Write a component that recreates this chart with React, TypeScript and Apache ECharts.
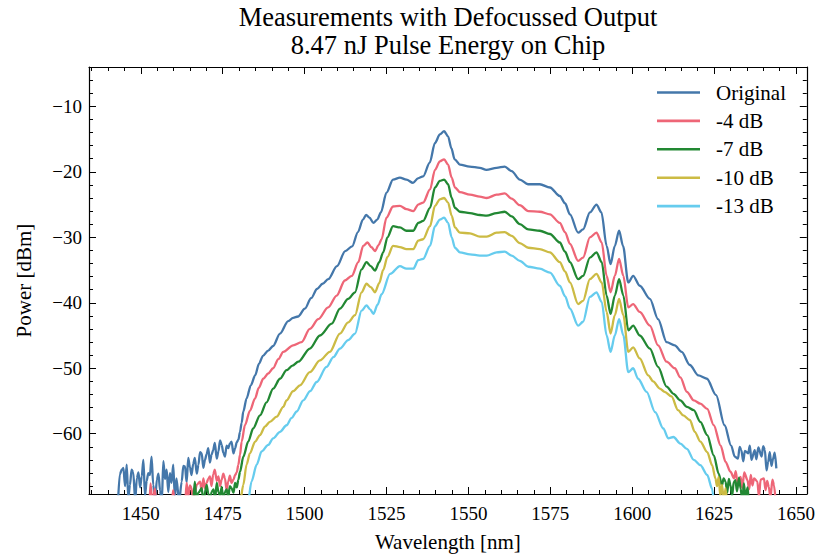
import React, { useEffect, useRef } from 'react';
import * as echarts from 'echarts';

const seriesNames = ['Original', '-4 dB', '-7 dB', '-10 dB', '-13 dB'];
const seriesColors = ['#4477AA', '#EE6677', '#228833', '#CCBB44', '#66CCEE'];

const X_MIN = 1434.2;
const X_MAX = 1653.3;
const Y_MIN = -69.2;
const Y_MAX = -4;

const origWl = [1443.0,1443.6,1444.2,1444.7,1445.2,1445.7,1446.2,1446.7,1447.2,1447.7,1448.3,1448.8,1449.3,1449.8,1450.3,1450.8,1451.3,1451.8,1452.3,1452.8,1453.3,1453.8,1454.4,1454.9,1455.4,1455.9,1456.4,1456.9,1457.4,1457.9,1458.4,1458.9,1459.4,1459.9,1460.4,1460.9,1461.7,1462.5,1463.0,1463.5,1464.0,1464.5,1465.0,1465.5,1466.0,1466.5,1467.1,1467.6,1468.1,1468.6,1469.1,1469.6,1470.1,1470.6,1471.1,1471.6,1472.1,1472.6,1473.2,1473.7,1474.2,1474.7,1475.2,1475.7,1476.2,1476.7,1477.2,1477.7,1478.3,1478.8,1479.3,1479.8,1480.3,1480.8,1481.3,1482.3,1483.6,1484.9,1486.1,1487.3,1488.9,1490.4,1492.5,1495.0,1496.5,1498.0,1500.1,1502.0,1503.8,1505.5,1507.2,1509.9,1512.4,1514.5,1516.3,1517.8,1518.8,1519.8,1521.0,1522.2,1523.3,1525.0,1527.0,1529.1,1531.1,1533.1,1534.6,1536.2,1538.2,1539.8,1541.3,1542.6,1543.8,1544.8,1545.8,1547.4,1550.4,1553.5,1555.5,1558.6,1561.1,1563.2,1565.7,1568.2,1571.8,1574.9,1577.9,1579.5,1581.0,1583.5,1585.0,1587.1,1589.1,1590.6,1592.2,1593.4,1594.7,1596.0,1597.2,1598.8,1600.3,1602.3,1605.4,1607.9,1610.5,1613.0,1615.1,1617.6,1620.2,1622.8,1625.6,1628.2,1630.2,1631.3,1632.3,1632.8,1633.3,1633.9,1634.4,1635.4,1635.9,1636.4,1637.4,1637.9,1638.5,1639.5,1640.0,1640.5,1641.0,1641.5,1642.0,1642.5,1643.0,1643.5,1644.0];
const origP = [-71,-66.2,-65.5,-65.2,-68.0,-64.7,-69.8,-67.8,-65.5,-65.9,-70.2,-66.8,-65.9,-68.2,-66.5,-64.0,-69.5,-67.2,-66.0,-66.3,-63.5,-67.8,-70.3,-67.0,-66.1,-68.7,-70.5,-64.2,-66.9,-65.5,-68.9,-66.0,-67.5,-64.7,-69.6,-66.8,-70.4,-67.3,-64.9,-65.0,-67.4,-63.7,-65.1,-66.3,-64.6,-63.7,-66.1,-64.7,-62.8,-63.0,-65.2,-64.0,-63.1,-62.2,-64.4,-63.2,-62.5,-61.4,-63.8,-62.7,-61.0,-61.7,-62.9,-63.5,-61.8,-62.2,-61.5,-61.2,-63.0,-62.2,-61.3,-60.9,-59.7,-58.3,-56.6,-54.6,-52.6,-51.1,-49.3,-48.1,-47.3,-46.6,-44.7,-42.8,-42.3,-42.1,-40.9,-39.3,-37.9,-37.1,-36.4,-34.4,-32.1,-31.4,-29.2,-27.3,-26.6,-27.0,-27.8,-27.3,-26.2,-23.2,-21.2,-20.9,-21.2,-21.7,-21.0,-20.7,-18.6,-15.6,-14.3,-13.8,-14.6,-16.4,-18.1,-18.9,-19.2,-19.4,-19.7,-19.4,-19.2,-19.9,-21.2,-21.9,-21.9,-22.4,-23.7,-24.8,-26.5,-29.3,-28.8,-26.2,-25.0,-26.2,-31.3,-34.1,-31.3,-29.0,-31.3,-36.9,-35.9,-37.4,-39.4,-42.5,-46.0,-46.5,-47.5,-49.5,-51.1,-51.6,-54.1,-58.7,-61.8,-63.5,-63.8,-62.0,-62.5,-64.2,-62.6,-63.0,-61.8,-64.0,-62.5,-63.9,-62.1,-63.5,-61.9,-62.5,-65.6,-64.3,-62.8,-64.9,-63.8,-62.9,-65.3];

const db4Wl = [1443.0,1452.6,1453.0,1453.5,1454.3,1454.8,1459.4,1459.9,1460.4,1463.5,1464.0,1464.5,1465.0,1465.5,1466.0,1466.5,1467.1,1468.1,1468.6,1469.1,1469.6,1470.1,1470.6,1471.1,1471.6,1472.1,1472.6,1473.2,1473.7,1474.2,1474.7,1475.2,1475.7,1476.2,1476.7,1477.2,1477.7,1478.3,1478.8,1479.3,1479.8,1480.3,1480.8,1481.8,1483.3,1484.9,1486.0,1487.4,1488.9,1490.4,1492.0,1493.5,1496.5,1499.1,1501.6,1504.2,1507.2,1509.8,1512.3,1514.4,1516.4,1517.9,1519.2,1520.4,1521.5,1522.6,1523.5,1525.0,1527.0,1529.1,1531.1,1533.2,1534.7,1536.2,1538.3,1539.8,1541.3,1542.6,1543.8,1544.9,1545.9,1547.4,1550.5,1553.5,1555.6,1558.6,1561.1,1563.2,1565.7,1568.3,1571.8,1574.9,1577.9,1579.5,1581.0,1583.5,1585.0,1587.1,1589.1,1590.7,1592.2,1593.4,1594.7,1596.0,1597.3,1598.8,1600.3,1602.3,1605.4,1607.9,1610.5,1613.0,1614.7,1616.7,1618.8,1620.8,1622.9,1624.9,1627.0,1628.5,1630.0,1631.1,1631.6,1632.1,1633.1,1633.6,1634.2,1635.2,1635.7,1636.2,1636.7,1637.2,1638.2,1638.7,1639.2,1640.2,1640.7,1641.2,1641.7,1642.2,1642.8,1643.3,1643.8];
const db4P = [-72,-71,-67.6,-71,-68.4,-71,-71,-68.6,-71,-71,-67.5,-69.6,-67.9,-68.3,-70.5,-69.0,-67.8,-67.3,-68.8,-66.8,-68.3,-67.5,-66.9,-66.5,-68.0,-66.2,-65.5,-67.2,-66.5,-68.0,-67.0,-66.1,-66.8,-68.6,-67.3,-66.4,-67.5,-67.0,-66.3,-65.9,-64.7,-63.2,-61.2,-58.7,-56.5,-54.6,-53.0,-51.6,-50.8,-50.0,-48.6,-47.5,-46.5,-46.0,-44.0,-42.5,-40.7,-38.9,-36.6,-35.9,-33.8,-31.3,-30.8,-31.5,-32.1,-31.2,-30.3,-27.0,-25.3,-25.2,-25.7,-26.0,-25.0,-24.7,-22.7,-19.7,-18.4,-18.1,-18.9,-20.9,-22.4,-23.1,-23.5,-23.8,-24.0,-23.5,-23.3,-24.1,-25.1,-26.0,-26.1,-26.5,-27.8,-29.2,-31.0,-33.6,-33.1,-30.0,-29.3,-30.8,-35.9,-38.4,-35.9,-33.3,-35.9,-40.7,-40.2,-41.4,-43.5,-46.5,-49.0,-50.0,-51.4,-53.6,-54.9,-55.4,-56.2,-58.7,-61.8,-64.3,-65.8,-66.8,-65.7,-67.4,-66.6,-68.3,-65.9,-67.1,-68.5,-66.3,-67.9,-66.8,-67.3,-69.6,-67.0,-66.8,-68.6,-67.2,-68.1,-69.8,-67.0,-67.9,-70.5];

const db7Wl = [1443.0,1465.9,1466.5,1467.0,1467.6,1468.6,1469.1,1470.1,1470.6,1471.1,1471.6,1472.2,1472.7,1473.2,1473.7,1474.2,1474.7,1475.2,1475.7,1476.2,1476.7,1477.2,1477.7,1478.3,1478.8,1479.3,1479.8,1480.3,1481.3,1482.8,1484.3,1486.4,1488.4,1490.4,1492.5,1494.5,1496.3,1498.1,1501.6,1504.7,1508.3,1510.8,1513.3,1515.4,1517.4,1518.9,1520.2,1521.5,1522.8,1524.0,1525.3,1527.0,1529.1,1531.1,1533.2,1534.7,1536.2,1538.3,1539.8,1541.3,1542.6,1543.8,1544.9,1545.9,1547.4,1550.5,1553.5,1555.6,1558.6,1561.1,1563.2,1565.7,1568.3,1571.8,1574.9,1577.9,1579.5,1581.0,1583.5,1585.0,1587.1,1589.1,1590.7,1592.2,1593.4,1594.7,1596.0,1597.3,1598.8,1600.3,1602.3,1605.4,1607.9,1610.5,1612.6,1614.7,1616.7,1618.8,1620.8,1622.9,1624.9,1626.4,1627.4,1627.9,1628.5,1629.0,1629.5,1630.0,1630.5,1631.0,1631.5,1632.0,1632.6,1633.1,1633.6,1634.1,1634.6,1635.2,1635.7,1636.2];
const db7P = [-73,-71,-67.3,-70.2,-69.0,-68.3,-70.4,-67.8,-69.1,-70.5,-68.9,-68.5,-69.9,-67.5,-68.9,-69.5,-68.1,-70.2,-68.9,-68.5,-69.7,-68.0,-68.3,-69.0,-67.5,-68.2,-67.0,-65.8,-63.5,-61.2,-59.2,-57.2,-55.2,-53.1,-51.6,-50.3,-49.6,-49.0,-47.0,-45.0,-43.2,-40.9,-39.4,-38.4,-34.9,-33.8,-34.4,-35.1,-33.8,-32.3,-30.0,-28.3,-28.5,-29.0,-29.0,-27.8,-27.5,-25.5,-22.4,-21.4,-21.2,-21.9,-24.0,-25.5,-26.1,-26.3,-26.6,-26.7,-26.3,-26.1,-26.8,-28.0,-28.8,-29.0,-29.5,-30.8,-32.2,-33.8,-36.4,-35.9,-33.1,-32.3,-33.8,-38.9,-41.7,-38.9,-36.4,-38.9,-44.2,-43.5,-45.0,-47.0,-49.8,-52.8,-53.9,-54.9,-55.9,-56.4,-58.2,-60.2,-63.3,-66.1,-67.9,-66.8,-67.3,-69.0,-66.9,-67.9,-69.5,-67.4,-67.1,-68.8,-66.7,-68.4,-70.3,-67.6,-69.9,-68.2,-70.6,-72];

const db10Wl = [1443.0,1479.8,1480.3,1481.3,1482.3,1483.3,1484.9,1486.4,1487.9,1489.4,1491.5,1493.5,1494.5,1496.5,1498.6,1501.6,1504.7,1507.7,1510.8,1513.3,1515.4,1517.4,1518.9,1520.2,1521.5,1522.8,1524.0,1525.3,1527.0,1529.1,1531.1,1533.2,1534.7,1536.2,1538.3,1539.8,1541.3,1542.6,1543.8,1544.9,1545.9,1547.4,1550.5,1553.5,1555.6,1558.6,1561.1,1563.2,1565.7,1568.3,1571.8,1574.9,1577.9,1579.5,1581.0,1583.5,1585.0,1587.1,1589.1,1590.7,1592.2,1593.4,1594.7,1596.0,1597.3,1598.8,1600.3,1602.3,1604.9,1606.4,1608.4,1609.9,1612.0,1614.0,1615.6,1617.6,1619.1,1620.8,1622.9,1624.4,1625.4,1625.9,1626.4,1626.9,1627.4,1628.0,1628.5,1629.0];
const db10P = [-74,-72,-70.5,-67.8,-64.7,-63.0,-61.2,-60.2,-58.9,-58.2,-57.4,-55.9,-54.9,-53.5,-52.6,-50.6,-48.8,-47.5,-44.7,-43.0,-41.9,-38.4,-37.1,-37.6,-38.4,-37.0,-35.0,-33.0,-31.3,-31.5,-31.8,-31.8,-30.5,-30.3,-28.3,-25.2,-24.2,-24.0,-24.7,-26.7,-28.5,-29.3,-29.4,-29.9,-29.9,-29.3,-29.2,-29.8,-30.9,-31.6,-31.8,-32.3,-33.8,-35.2,-36.9,-40.2,-39.7,-36.4,-35.6,-36.9,-41.4,-44.7,-41.9,-39.4,-41.9,-47.5,-46.8,-48.5,-51.1,-52.0,-53.1,-53.6,-54.3,-56.4,-57.2,-57.9,-59.7,-61.2,-62.8,-64.8,-66.8,-68.0,-66.6,-69.5,-67.8,-70.3,-68.3,-71];

const db13Wl = [1443.0,1482.0,1482.7,1483.8,1485.4,1486.9,1488.9,1490.4,1492.5,1494.5,1496.0,1497.6,1499.6,1501.7,1503.7,1506.7,1508.8,1510.8,1513.3,1515.4,1517.4,1518.9,1520.0,1521.0,1522.3,1523.5,1526.1,1529.1,1531.1,1533.2,1534.7,1536.2,1538.3,1539.8,1541.3,1542.6,1543.8,1544.9,1545.9,1547.4,1550.5,1553.5,1555.6,1558.6,1561.1,1563.2,1565.7,1568.3,1571.8,1574.9,1577.9,1579.5,1581.0,1583.5,1585.0,1587.1,1589.1,1590.7,1592.2,1593.4,1594.7,1596.0,1597.3,1598.8,1600.3,1601.8,1604.4,1607.0,1609.5,1611.0,1612.6,1614.7,1616.7,1618.8,1620.8,1622.9,1624.4,1625.0];
const db13P = [-75,-72,-70.5,-67.3,-64.7,-62.7,-61.7,-60.7,-59.7,-58.7,-57.6,-56.6,-54.9,-53.5,-52.1,-49.8,-48.3,-47.0,-45.7,-44.7,-41.2,-40.4,-41.0,-41.7,-40.3,-38.7,-35.6,-34.4,-34.8,-34.8,-33.5,-33.3,-31.3,-28.3,-27.3,-27.0,-27.8,-30.0,-31.6,-32.3,-32.6,-32.8,-32.8,-32.3,-32.2,-32.8,-33.6,-34.5,-34.8,-35.4,-37.4,-39.0,-40.9,-43.5,-42.9,-39.1,-38.4,-39.9,-45.0,-47.5,-45.0,-42.5,-45.0,-50.6,-50.0,-51.6,-53.6,-56.7,-59.2,-60.7,-60.5,-61.5,-62.3,-64.0,-64.8,-66.3,-68.4,-71];

const seriesWl = [origWl, db4Wl, db7Wl, db10Wl, db13Wl];
const seriesP = [origP, db4P, db7P, db10P, db13P];

const titleText = 'Measurements with Defocussed Output\n8.47 nJ Pulse Energy on Chip';
const xName = 'Wavelength [nm]';
const yName = 'Power [dBm]';

const FONT = '"Liberation Serif", "Times New Roman", serif';

function fmtX(v: number) {
  return Math.abs(v % 25) < 1e-6 ? String(Math.round(v)) : '';
}
function fmtY(v: number) {
  if (Math.abs(v % 10) > 1e-6) return '';
  return v < 0 ? '\u2212' + Math.abs(v) : String(v);
}

function axisCommon(isX: boolean, show: boolean) {
  return {
    type: 'value',
    min: isX ? X_MIN : Y_MIN,
    max: isX ? X_MAX : Y_MAX,
    minInterval: isX ? 25 : 10,
    maxInterval: isX ? 25 : 10,
    scale: true,
    splitLine: { show: false },
    axisLine: { show: true, onZero: false, lineStyle: { color: '#000', width: 1.2 } },
    axisTick: { show: true, inside: true, length: 7, lineStyle: { color: '#000', width: 1 } },
    minorTick: { show: true, splitNumber: 5, length: 4, lineStyle: { color: '#000', width: 1 } },
    axisLabel: {
      show,
      margin: isX ? 10 : 7,
      fontFamily: FONT,
      fontSize: 19,
      color: '#000',
      showMinLabel: true,
      showMaxLabel: true,
      formatter: isX ? fmtX : fmtY,
    },
  };
}

export default function App() {
  const ref = useRef<HTMLDivElement>(null);
  useEffect(() => {
    if (!ref.current) return;
    const chart = echarts.init(ref.current, null, { renderer: 'svg' });
    const series = seriesNames.map((name, k) => ({
      name,
      type: 'line',
      xAxisIndex: 0,
      yAxisIndex: 0,
      data: seriesWl[k].map((w, i) => [w, seriesP[k][i]]),
      showSymbol: false,
      symbol: 'none',
      smooth: 0.3,
      smoothMonotone: 'x',
      clip: true,
      lineStyle: { color: seriesColors[k], width: 2.3 },
      itemStyle: { color: seriesColors[k] },
      emphasis: { disabled: true },
    }));
    chart.setOption({
      animation: false,
      backgroundColor: '#ffffff',
      title: {
        text: titleText,
        left: 448,
        top: 3,
        padding: 0,
        textAlign: 'center',
        textStyle: { fontFamily: FONT, fontSize: 26.5, fontWeight: 'normal', color: '#000', lineHeight: 28 },
      },
      grid: { left: 89, right: 11, top: 67, bottom: 62, containLabel: false },
      legend: {
        orient: 'vertical',
        left: 657,
        top: 82,
        padding: 0,
        icon: 'rect',
        itemWidth: 43,
        itemHeight: 2.6,
        itemGap: 7.4,
        data: seriesNames,
        textStyle: { fontFamily: FONT, fontSize: 21, color: '#000', lineHeight: 21, padding: [0, 0, 0, 11] },
      },
      xAxis: [
        { ...axisCommon(true, true), position: 'bottom', name: xName, nameLocation: 'middle', nameGap: 37,
          nameTextStyle: { fontFamily: FONT, fontSize: 21, color: '#000' } },
        { ...axisCommon(true, false), position: 'top' },
      ],
      yAxis: [
        { ...axisCommon(false, true), position: 'left', name: yName, nameLocation: 'middle', nameGap: 55,
          nameTextStyle: { fontFamily: FONT, fontSize: 21, color: '#000' } },
        { ...axisCommon(false, false), position: 'right' },
      ],
      series,
    });
    return () => chart.dispose();
  }, []);
  return (
    <div
      ref={ref}
      style={{ position: 'fixed', left: 0, top: 0, width: 818, height: 557, background: '#fff' }}
    />
  );
}
